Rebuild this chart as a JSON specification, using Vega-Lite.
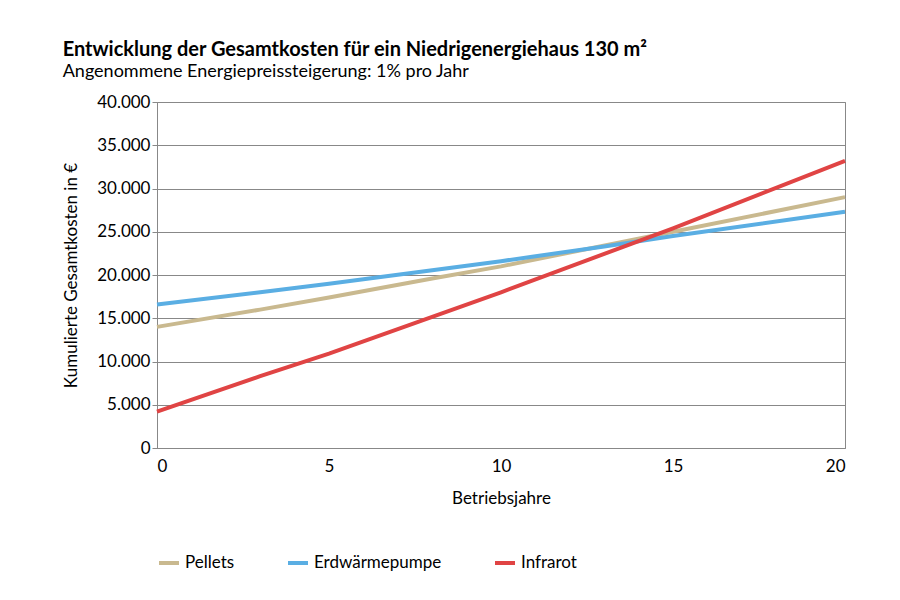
{
  "$schema": "https://vega.github.io/schema/vega-lite/v6.json",
  "width": 688,
  "height": 346,
  "autosize": "none",
  "padding": {"left": 157, "top": 102, "right": 55, "bottom": 152},
  "background": "white",
  "title": {
    "text": "Entwicklung der Gesamtkosten für ein Niedrigenergiehaus 130 m²",
    "subtitle": "Angenommene Energiepreissteigerung:  1% pro Jahr",
    "anchor": "start",
    "font": "Lato",
    "fontSize": 20,
    "fontWeight": "bold",
    "subtitleFont": "Lato",
    "subtitleFontSize": 18,
    "subtitleColor": "black",
    "color": "black",
    "offset": 12
  },
  "data": {
    "values": [
      {"jahr": 0, "wert": 14000, "art": "Pellets"},
      {"jahr": 3, "wert": 16000, "art": "Pellets"},
      {"jahr": 5, "wert": 17400, "art": "Pellets"},
      {"jahr": 8, "wert": 19600, "art": "Pellets"},
      {"jahr": 10, "wert": 21000, "art": "Pellets"},
      {"jahr": 15, "wert": 25000, "art": "Pellets"},
      {"jahr": 20, "wert": 29000, "art": "Pellets"},
      {"jahr": 0, "wert": 16600, "art": "Erdwärmepumpe"},
      {"jahr": 3, "wert": 18000, "art": "Erdwärmepumpe"},
      {"jahr": 5, "wert": 19000, "art": "Erdwärmepumpe"},
      {"jahr": 10, "wert": 21600, "art": "Erdwärmepumpe"},
      {"jahr": 13, "wert": 23300, "art": "Erdwärmepumpe"},
      {"jahr": 15, "wert": 24500, "art": "Erdwärmepumpe"},
      {"jahr": 20, "wert": 27300, "art": "Erdwärmepumpe"},
      {"jahr": 0, "wert": 4200, "art": "Infrarot"},
      {"jahr": 3, "wert": 8300, "art": "Infrarot"},
      {"jahr": 5, "wert": 10900, "art": "Infrarot"},
      {"jahr": 10, "wert": 18000, "art": "Infrarot"},
      {"jahr": 15, "wert": 25400, "art": "Infrarot"},
      {"jahr": 20, "wert": 33200, "art": "Infrarot"}
    ]
  },
  "mark": {"type": "line", "strokeWidth": 4},
  "encoding": {
    "x": {
      "field": "jahr",
      "type": "quantitative",
      "title": "Betriebsjahre",
      "scale": {"domain": [0, 20], "nice": false},
      "axis": {"values": [0, 5, 10, 15, 20], "grid": false, "tickSize": 0, "labelPadding": 10, "titlePadding": 16, "domainColor": "#888"}
    },
    "y": {
      "field": "wert",
      "type": "quantitative",
      "title": "Kumulierte Gesamtkosten in €",
      "scale": {"domain": [0, 40000]},
      "axis": {
        "values": [0, 5000, 10000, 15000, 20000, 25000, 30000, 35000, 40000],
        "labelExpr": "replace(format(datum.value, ',.0f'), ',', '.')",
        "gridColor": "#888",
        "tickSize": 5,
        "tickColor": "#888",
        "domainColor": "#888",
        "titlePadding": 16
      }
    },
    "color": {
      "field": "art",
      "type": "nominal",
      "title": null,
      "sort": ["Pellets", "Erdwärmepumpe", "Infrarot"],
      "scale": {"domain": ["Pellets", "Erdwärmepumpe", "Infrarot"], "range": ["#c9b98f", "#5aaee3", "#e04444"]},
      "legend": {
        "orient": "none",
        "legendX": 0,
        "legendY": 449,
        "direction": "horizontal",
        "symbolType": "stroke",
        "symbolStrokeWidth": 4,
        "symbolSize": 400,
        "columnPadding": 45,
        "labelFontSize": 17,
        "labelFont": "Lato"
      }
    }
  },
  "config": {
    "view": {"stroke": "#888"},
    "axis": {"labelFont": "Lato", "titleFont": "Lato", "labelFontSize": 17, "titleFontSize": 17, "titleFontWeight": "normal", "labelColor": "black", "titleColor": "black"}
  }
}
